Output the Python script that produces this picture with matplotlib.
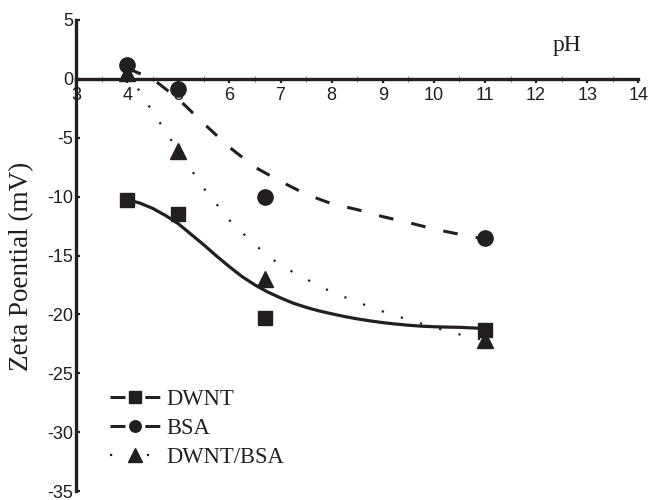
import numpy as np
import matplotlib
matplotlib.use('Agg')
import matplotlib.pyplot as plt
from matplotlib.lines import Line2D

plt.rcParams['axes.unicode_minus'] = False

ph = [4, 5, 6.7, 11]
dwnt = [-10.3, -11.5, -20.3, -21.3]
bsa = [1.2, -0.85, -10.0, -13.5]
dwnt_bsa = [0.5, -6.1, -17.0, -22.2]

# trend lines as drawn in the figure
dwnt_trend_ph = [4, 4.25, 4.5, 4.75, 5, 5.25, 5.5, 5.75, 6, 6.25, 6.5, 6.75,
                 7, 7.25, 7.5, 7.75, 8, 8.25, 8.5, 8.75, 9, 9.25, 9.5, 9.75,
                 10, 10.25, 10.5, 10.75, 11]
dwnt_trend = [-10.25, -10.55, -11.0, -11.6, -12.3, -13.2, -14.1, -15.05,
              -15.95, -16.8, -17.5, -18.1, -18.6, -19.05, -19.4, -19.7,
              -19.95, -20.18, -20.38, -20.55, -20.7, -20.82, -20.92, -21.0,
              -21.05, -21.08, -21.1, -21.15, -21.2]
trend_ph = [4, 4.5, 5, 5.5, 6, 6.5, 7, 7.5, 8, 8.5, 9, 9.5, 10, 10.5, 11]
bsa_trend = [0.9, 0.0, -1.7, -3.8, -5.8, -7.5, -8.7, -9.8,
             -10.6, -11.1, -11.7, -12.2, -12.75, -13.2, -13.6]
dwnt_bsa_trend = [0.6, -2.8, -6.1, -9.3, -12.0, -14.1, -15.85, -17.0,
                  -18.1, -18.95, -19.75, -20.45, -21.1, -21.7, -22.2]

labels = ['DWNT', 'BSA', 'DWNT/BSA']
x_ticks = list(range(3, 15))
y_ticks = list(range(5, -40, -5))

ink = '#231f20'

fig = plt.figure(figsize=(6.5, 5), dpi=100)
ax = fig.add_axes([0.117, 0.018, 0.865, 0.942])

ax.plot(dwnt_trend_ph, dwnt_trend, color=ink, lw=2.3, solid_joinstyle='round')
ax.plot(trend_ph, bsa_trend, color=ink, lw=2.2, dashes=(4.8, 6))
ax.plot(trend_ph, dwnt_bsa_trend, color=ink, lw=1.6, dashes=(1, 8))

ax.plot(ph, dwnt, 's', color=ink, ms=9.5, ls='none')
ax.plot(ph, bsa, 'o', color=ink, ms=11, ls='none')
ax.plot(ph, dwnt_bsa, '^', color=ink, ms=12, ls='none')

ax.set_xlim(3, 14)
ax.set_ylim(-35, 5)
ax.spines['top'].set_visible(False)
ax.spines['right'].set_visible(False)
ax.spines['bottom'].set_position(('data', 0))
for sp in ('left', 'bottom'):
    ax.spines[sp].set_linewidth(2.4)
    ax.spines[sp].set_color(ink)

ax.set_xticks(x_ticks)
ax.set_yticks(y_ticks)
ax.set_xticks(np.arange(3.5, 14, 1), minor=True)
ax.tick_params(which='major', direction='in', length=3, width=1.6, color=ink,
               labelsize=13, labelcolor=ink, pad=2)
ax.tick_params(axis='x', which='major', direction='out', pad=3)
ax.tick_params(axis='x', which='minor', direction='inout', length=4,
               width=0.8, color='#888888')
for lab in ax.get_xticklabels() + ax.get_yticklabels():
    lab.set_fontfamily('Liberation Sans')

ax.text(12.6, 2.8, 'pH', fontsize=17, family='Liberation Serif', color=ink,
        ha='center', va='center')
fig.text(0.034, 0.468, 'Zeta Poential (mV)', rotation=90, fontsize=19.5,
         family='Liberation Serif', color=ink, ha='center', va='center')

handles = [
    Line2D([], [], color=ink, lw=2.2, dashes=(4.9, 6.5), marker='s', ms=8),
    Line2D([], [], color=ink, lw=2.2, dashes=(4.9, 6.5), marker='o', ms=8.3),
    Line2D([], [], color=ink, lw=1.6, dashes=(1, 15.6), marker='^', ms=10),
]
ax.legend(handles, labels, loc='lower left',
          bbox_to_anchor=(0.044, 0.029), frameon=False, handlelength=2.2,
          handletextpad=0.3, labelspacing=0.36, borderaxespad=0,
          prop={'family': 'Liberation Serif', 'size': 16.3},
          labelcolor=ink)

fig.savefig('out.png', dpi=100)
